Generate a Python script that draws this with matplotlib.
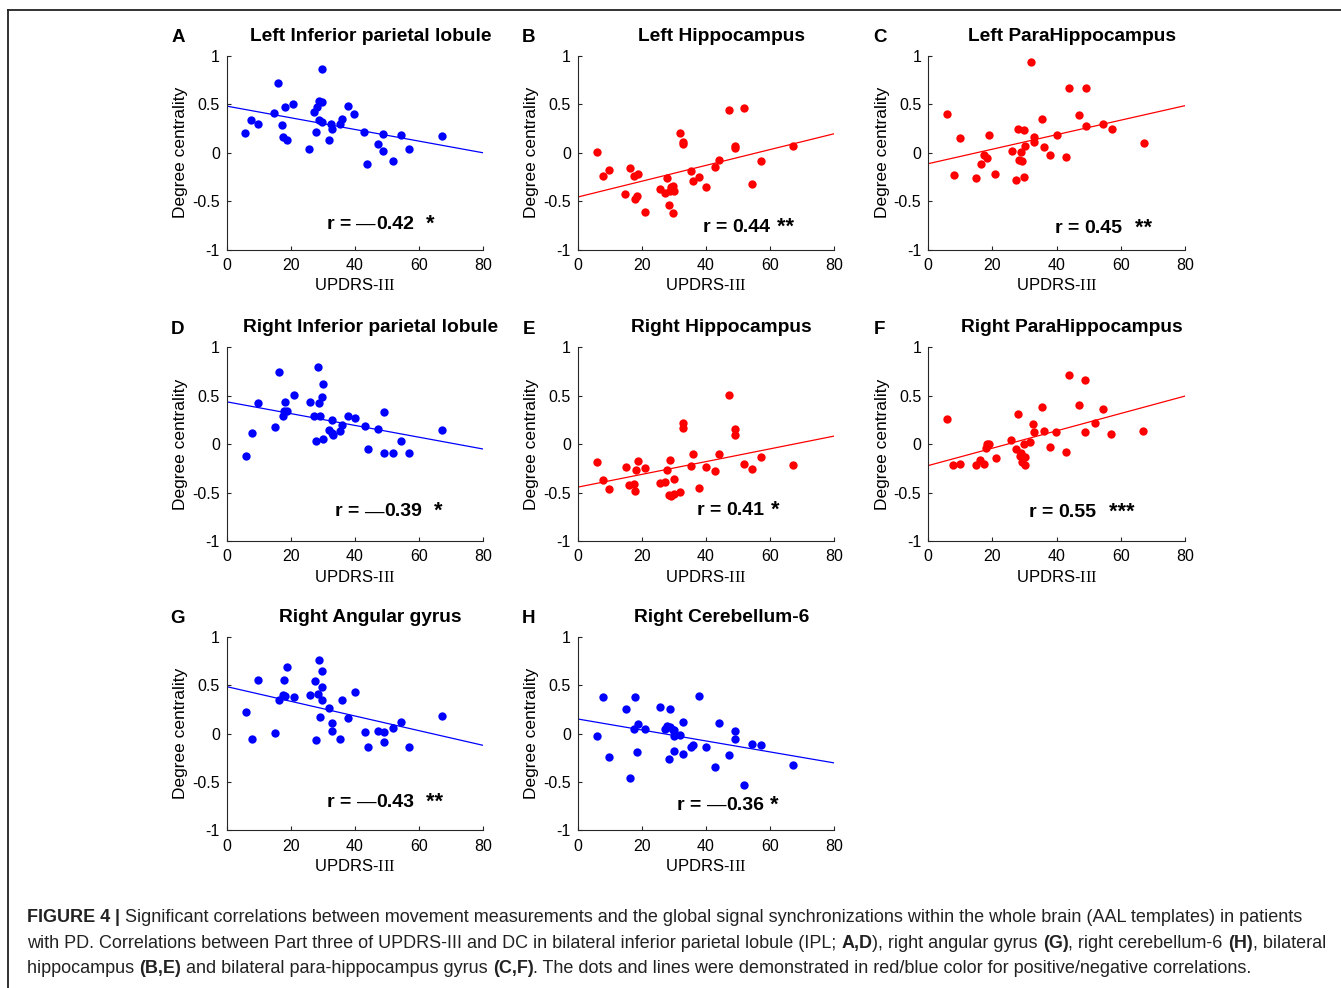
import matplotlib
matplotlib.use("Agg")
import matplotlib.pyplot as plt
import numpy as np

plt.rcParams["font.family"] = ["Liberation Sans", "DejaVu Sans"]
plt.rcParams["axes.unicode_minus"] = False
plt.rcParams["mathtext.fontset"] = "custom"
plt.rcParams["mathtext.rm"] = "Liberation Serif"

# ---- data (UPDRS-III vs degree centrality) ----
a_x = [5.7, 7.6, 9.7, 14.8, 16.1, 17.2, 17.7, 18.2, 18.7, 20.8, 25.8, 27.1, 27.7, 28.2, 28.7, 28.9, 29.7, 29.8,
       29.8, 31.8, 32.6, 32.8, 35.2, 35.8, 37.7, 39.8, 42.9, 43.8, 47.0, 48.8, 48.8, 51.8, 54.3, 56.8, 67.0]
a_y = [0.20, 0.34, 0.30, 0.41, 0.72, 0.29, 0.16, 0.47, 0.13, 0.50, 0.04, 0.42, 0.22, 0.47, 0.54, 0.34, 0.87, 0.53,
       0.32, 0.13, 0.30, 0.25, 0.30, 0.35, 0.48, 0.40, 0.22, -0.11, 0.09, 0.19, 0.02, -0.08, 0.18, 0.04, 0.17]

b_x = [5.9, 7.8, 9.9, 14.8, 16.3, 17.4, 18.0, 18.4, 18.9, 20.9, 25.8, 27.1, 27.9, 28.4, 28.8, 29.2, 29.8, 30.0,
       29.8, 31.9, 32.8, 32.9, 35.4, 35.8, 37.9, 40.0, 42.9, 43.9, 47.1, 49.0, 49.0, 51.9, 54.4, 57.0, 67.0]
b_y = [0.01, -0.24, -0.18, -0.42, -0.16, -0.24, -0.48, -0.45, -0.22, -0.61, -0.37, -0.41, -0.26, -0.54, -0.39,
       -0.35, -0.34, -0.39, -0.62, 0.21, 0.11, 0.09, -0.19, -0.29, -0.25, -0.35, -0.15, -0.07, 0.44, 0.07, 0.05,
       0.46, -0.32, -0.08, 0.07]

c_x = [5.9, 7.9, 9.9, 14.9, 16.4, 17.5, 18.4, 18.9, 20.9, 26.0, 27.4, 28.0, 28.4, 29.0, 29.3, 29.9, 29.9, 30.0,
       32.0, 32.9, 32.9, 35.4, 36.0, 38.0, 40.0, 43.0, 44.0, 47.1, 49.0, 49.0, 54.5, 57.1, 67.1]
c_y = [0.40, -0.23, 0.15, -0.26, -0.11, -0.02, -0.05, 0.18, -0.22, 0.02, -0.28, 0.25, -0.07, 0.01, -0.08, 0.24,
       -0.25, 0.07, 0.94, 0.16, 0.11, 0.35, 0.06, -0.02, 0.18, -0.04, 0.67, 0.39, 0.67, 0.28, 0.30, 0.25, 0.10]

d_x = [5.9, 7.8, 9.8, 14.9, 16.3, 17.4, 17.9, 18.3, 18.9, 20.9, 25.9, 27.3, 27.9, 28.4, 28.9, 29.0, 29.8, 29.9,
       29.9, 31.8, 32.7, 32.7, 33.0, 35.4, 35.9, 37.8, 40.0, 43.0, 43.9, 47.0, 48.9, 48.9, 51.9, 54.4, 56.9, 67.0]
d_y = [-0.12, 0.12, 0.42, 0.18, 0.75, 0.29, 0.34, 0.44, 0.34, 0.51, 0.44, 0.29, 0.03, 0.80, 0.42, 0.29, 0.49, 0.62,
       0.05, 0.15, 0.25, 0.12, 0.09, 0.14, 0.20, 0.29, 0.27, 0.19, -0.05, 0.16, 0.33, -0.09, -0.09, 0.03, -0.09, 0.15]

e_x = [5.9, 7.8, 9.8, 14.9, 16.1, 17.4, 17.9, 18.3, 18.8, 20.9, 25.8, 27.2, 27.9, 28.4, 28.9, 29.0, 29.9, 29.9,
       31.9, 32.7, 32.8, 35.3, 35.9, 37.9, 39.9, 42.9, 43.9, 47.1, 48.9, 48.9, 51.9, 54.4, 57.0, 67.0]
e_y = [-0.18, -0.37, -0.46, -0.24, -0.42, -0.41, -0.48, -0.27, -0.17, -0.25, -0.40, -0.39, -0.27, -0.52, -0.16,
       -0.54, -0.36, -0.51, -0.49, 0.22, 0.17, -0.23, -0.10, -0.45, -0.24, -0.28, -0.10, 0.51, 0.16, 0.09, -0.20,
       -0.26, -0.13, -0.22]

f_x = [5.7, 7.6, 9.8, 14.9, 16.1, 17.4, 17.9, 18.4, 19.0, 21.0, 25.9, 27.4, 28.1, 28.6, 29.0, 29.2, 29.9, 30.0,
       30.0, 31.7, 32.7, 32.9, 35.3, 36.0, 38.0, 39.9, 42.9, 44.0, 47.1, 48.9, 48.9, 51.9, 54.4, 57.0, 67.0]
f_y = [0.26, -0.22, -0.20, -0.22, -0.16, -0.20, -0.04, 0.00, 0.00, -0.14, 0.04, -0.05, 0.31, -0.12, -0.09, -0.18,
       0.00, -0.13, -0.22, 0.02, 0.21, 0.13, 0.38, 0.14, -0.03, 0.13, -0.08, 0.71, 0.40, 0.66, 0.13, 0.22, 0.36,
       0.10, 0.14]

g_x = [5.9, 7.8, 9.8, 14.9, 16.3, 17.4, 17.8, 18.3, 18.9, 21.0, 25.9, 27.4, 27.9, 28.4, 28.9, 29.0, 29.8, 29.8,
       29.8, 31.9, 32.9, 32.9, 35.4, 35.9, 37.8, 40.0, 43.0, 43.9, 47.0, 48.9, 48.9, 51.9, 54.4, 56.9, 67.0]
g_y = [0.22, -0.06, 0.55, 0.01, 0.35, 0.40, 0.55, 0.39, 0.69, 0.38, 0.40, 0.54, -0.07, 0.41, 0.76, 0.17, 0.48, 0.65,
       0.35, 0.26, 0.11, 0.03, -0.06, 0.35, 0.16, 0.43, 0.02, -0.14, 0.03, 0.02, -0.09, 0.06, 0.12, -0.14, 0.18]

h_x = [5.9, 7.8, 9.8, 14.9, 16.3, 17.4, 18.0, 18.4, 18.8, 20.9, 25.8, 27.2, 27.8, 28.3, 28.8, 28.8, 29.8, 29.9,
       29.9, 30.0, 31.9, 32.8, 32.8, 35.3, 35.9, 37.9, 40.0, 42.9, 43.9, 47.1, 48.9, 48.9, 51.9, 54.4, 57.0, 67.0]
h_y = [-0.03, 0.38, -0.24, 0.25, -0.46, 0.05, 0.38, -0.19, 0.10, 0.05, 0.27, 0.05, 0.08, -0.26, 0.25, 0.07, 0.04,
       -0.03, -0.18, 0.04, -0.02, 0.12, -0.21, -0.14, -0.12, 0.39, -0.14, -0.35, 0.11, -0.22, 0.03, -0.06, -0.53,
       -0.11, -0.12, -0.32]

letters = ["A", "B", "C", "D", "E", "F", "G", "H"]
titles = ["Left Inferior parietal lobule", "Left Hippocampus", "Left ParaHippocampus",
          "Right Inferior parietal lobule", "Right Hippocampus", "Right ParaHippocampus",
          "Right Angular gyrus", "Right Cerebellum-6"]
# r value text: (prefix, signed?, number, stars)
r_prefix = ["r = ", "r = ", "r = ", "r = ", "r = ", "r = ", "r = ", "r = "]
r_neg = [True, False, False, True, False, False, True, True]
r_vals = ["0.42", "0.44", "0.45", "0.39", "0.41", "0.55", "0.43", "0.36"]
r_stars = ["  *", " **", "  **", "  *", " *", "  ***", "  **", " *"]
colors = ["blue", "red", "red", "blue", "red", "red", "blue", "blue"]
xs = [a_x, b_x, c_x, d_x, e_x, f_x, g_x, h_x]
ys = [a_y, b_y, c_y, d_y, e_y, f_y, g_y, h_y]

# annotation anchor (axes fraction) for the r text
r_pos = [(0.39, 0.13), (0.488, 0.113), (0.494, 0.108),
         (0.422, 0.15), (0.465, 0.155), (0.392, 0.145),
         (0.391, 0.145), (0.387, 0.13)]

W, H = 1341, 988
fig = plt.figure(figsize=(W / 100, H / 100), dpi=100)
renderer = fig.canvas.get_renderer()

col_left = [226.7, 577.7, 928.3]
row_top = [56, 347.3, 636.7]
ax_w, ax_h = 256.7, 193.7


def run_text(x0, y0, parts, size, color="black"):
    # draw text pieces one after another, in figure pixels
    xpos = x0
    for seg, weight, fsize in parts:
        t = fig.text(xpos / W, 1 - y0 / H, seg, fontsize=fsize or size, color=color,
                     fontweight=weight, ha="left", va="center")
        xpos += t.get_window_extent(renderer=renderer).width
    return xpos


for i in range(8):
    r, c = divmod(i, 3)
    ax = fig.add_axes([col_left[c] / W, 1 - (row_top[r] + ax_h) / H, ax_w / W, ax_h / H])
    x = np.array(xs[i])
    y = np.array(ys[i])
    ax.plot(x, y, "o", color=colors[i], markersize=6.0, markeredgewidth=0)
    k, b = np.polyfit(x, y, 1)
    xx = np.array([0, 80])
    ax.plot(xx, k * xx + b, color=colors[i], linewidth=0.9)

    ax.set_xlim(0, 80)
    ax.set_ylim(-1, 1)
    ax.set_xticks([0, 20, 40, 60, 80])
    ax.set_yticks([-1, -0.5, 0, 0.5, 1])
    ax.set_yticklabels(["-1", "-0.5", "0", "0.5", "1"])
    for s in ["top", "right"]:
        ax.spines[s].set_visible(False)
    for s in ["left", "bottom"]:
        ax.spines[s].set_color("#262626")
        ax.spines[s].set_linewidth(0.8)
    ax.tick_params(direction="in", length=3, width=0.8, color="#262626", labelsize=11.5, pad=5)
    ax.tick_params(axis="x", pad=6)
    ax.set_ylabel("Degree centrality", fontsize=12.5, labelpad=3)
    ax.set_xlabel("UPDRS-$\\mathrm{III}$", fontsize=12, labelpad=3)
    ax.text(0.56, 1.10, titles[i], transform=ax.transAxes, ha="center", va="center",
            fontsize=13.8, fontweight="bold")
    ax.text(-0.19, 1.093, letters[i], transform=ax.transAxes, ha="center", va="center",
            fontsize=13.5, fontweight="bold")

    # r label, built from pieces so the minus stays thin
    px = col_left[c] + r_pos[i][0] * ax_w
    py = row_top[r] + (1 - r_pos[i][1]) * ax_h
    parts = [(r_prefix[i], "bold", None)]
    if r_neg[i]:
        parts.append(("\u2014", "normal", None))
    parts.append((r_vals[i], "bold", None))
    parts.append((r_stars[i], "bold", 15.5))
    run_text(px, py, parts, 14)

# frame lines around the figure panel
fig.add_artist(plt.Line2D([8 / W, 1], [1 - 10 / H, 1 - 10 / H], color="#222222", linewidth=1.3))
fig.add_artist(plt.Line2D([8 / W, 8 / W], [0, 1 - 10 / H], color="#222222", linewidth=1.3))

# caption with mixed bold segments
caption = [
    [("FIGURE 4 ", "bold", None), ("| ", "bold", None),
     ("Significant correlations between movement measurements and the global signal synchronizations "
      "within the whole brain (AAL templates) in patients", "normal", None)],
    [("with PD. Correlations between Part three of UPDRS-III and DC in bilateral inferior parietal lobule (IPL; ",
      "normal", None), ("A,D", "bold", None), ("), right angular gyrus ", "normal", None), ("(G)", "bold", None),
     (", right cerebellum-6 ", "normal", None), ("(H)", "bold", None), (", bilateral", "normal", None)],
    [("hippocampus ", "normal", None), ("(B,E)", "bold", None),
     (" and bilateral para-hippocampus gyrus ", "normal", None), ("(C,F)", "bold", None),
     (". The dots and lines were demonstrated in red/blue color for positive/negative correlations.",
      "normal", None)],
]
cap_y = [917, 943, 968]
for line, yy in zip(caption, cap_y):
    run_text(27, yy, line, 13.0, color="#222222")

fig.savefig("out.png", dpi=100)
